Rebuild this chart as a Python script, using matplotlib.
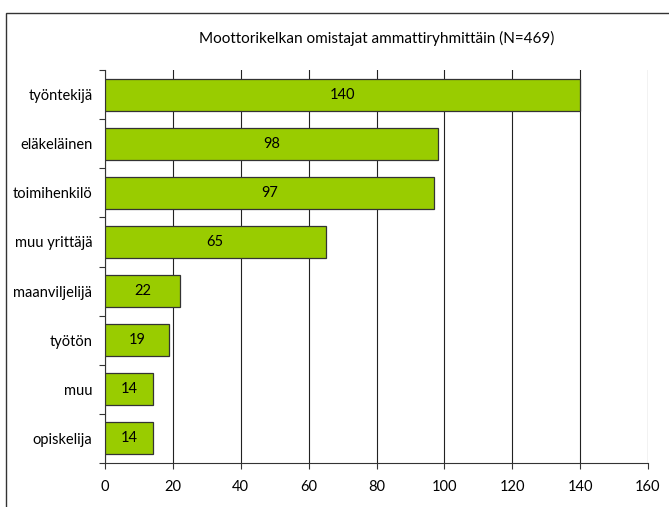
import matplotlib.pyplot as plt
from matplotlib.patches import Rectangle

plt.rcParams['font.family'] = ['Lato', 'DejaVu Sans']

ryhmat = ['työntekijä', 'eläkeläinen', 'toimihenkilö', 'muu yrittäjä',
          'maanviljelijä', 'työtön', 'muu', 'opiskelija']
maarat = [140, 98, 97, 65, 22, 19, 14, 14]
xtikit = [0, 20, 40, 60, 80, 100, 120, 140, 160]

fig = plt.figure(figsize=(6.69, 5.07), dpi=100)
fig.patches.append(Rectangle((6 / 669, -0.1), 1.2, 1.1 - 13 / 507,
                             transform=fig.transFigure, fill=False,
                             edgecolor='#333333', linewidth=1.0))
ax = fig.add_axes([105 / 669, 1 - 463 / 507, 543 / 669, 393 / 507])

y = list(range(len(ryhmat)))
ax.barh(y, maarat, height=0.65, color='#99CC00', edgecolor='#333333',
        linewidth=0.9, zorder=3)
for yy, v in zip(y, maarat):
    ax.text(v / 2, yy, str(v), ha='center', va='center', fontsize=10.5, zorder=4)

ax.set_ylim(len(ryhmat) - 0.5, -0.5)
ax.set_xlim(0, 160)
ax.set_xticks(xtikit)
ax.set_yticks(y)
ax.set_yticklabels(ryhmat, fontsize=10.5)
ax.set_yticks([i + 0.5 for i in range(-1, len(ryhmat))], minor=True)
ax.tick_params(axis='y', which='major', length=0, pad=9)
ax.tick_params(axis='y', which='minor', length=4, width=0.8, color='#333333')
ax.tick_params(axis='x', length=4, width=0.8, color='#333333', labelsize=10.5, pad=8)
ax.grid(axis='x', color='#222222', linewidth=0.8, zorder=0)
for s in ['top', 'right']:
    ax.spines[s].set_visible(False)
ax.spines['left'].set_color('#333333')
ax.spines['bottom'].set_color('#333333')

fig.text(377 / 669, 1 - 38 / 507, 'Moottorikelkan omistajat ammattiryhmittäin (N=469)',
         ha='center', va='center', fontsize=11)

fig.savefig('out.png', dpi=100)
